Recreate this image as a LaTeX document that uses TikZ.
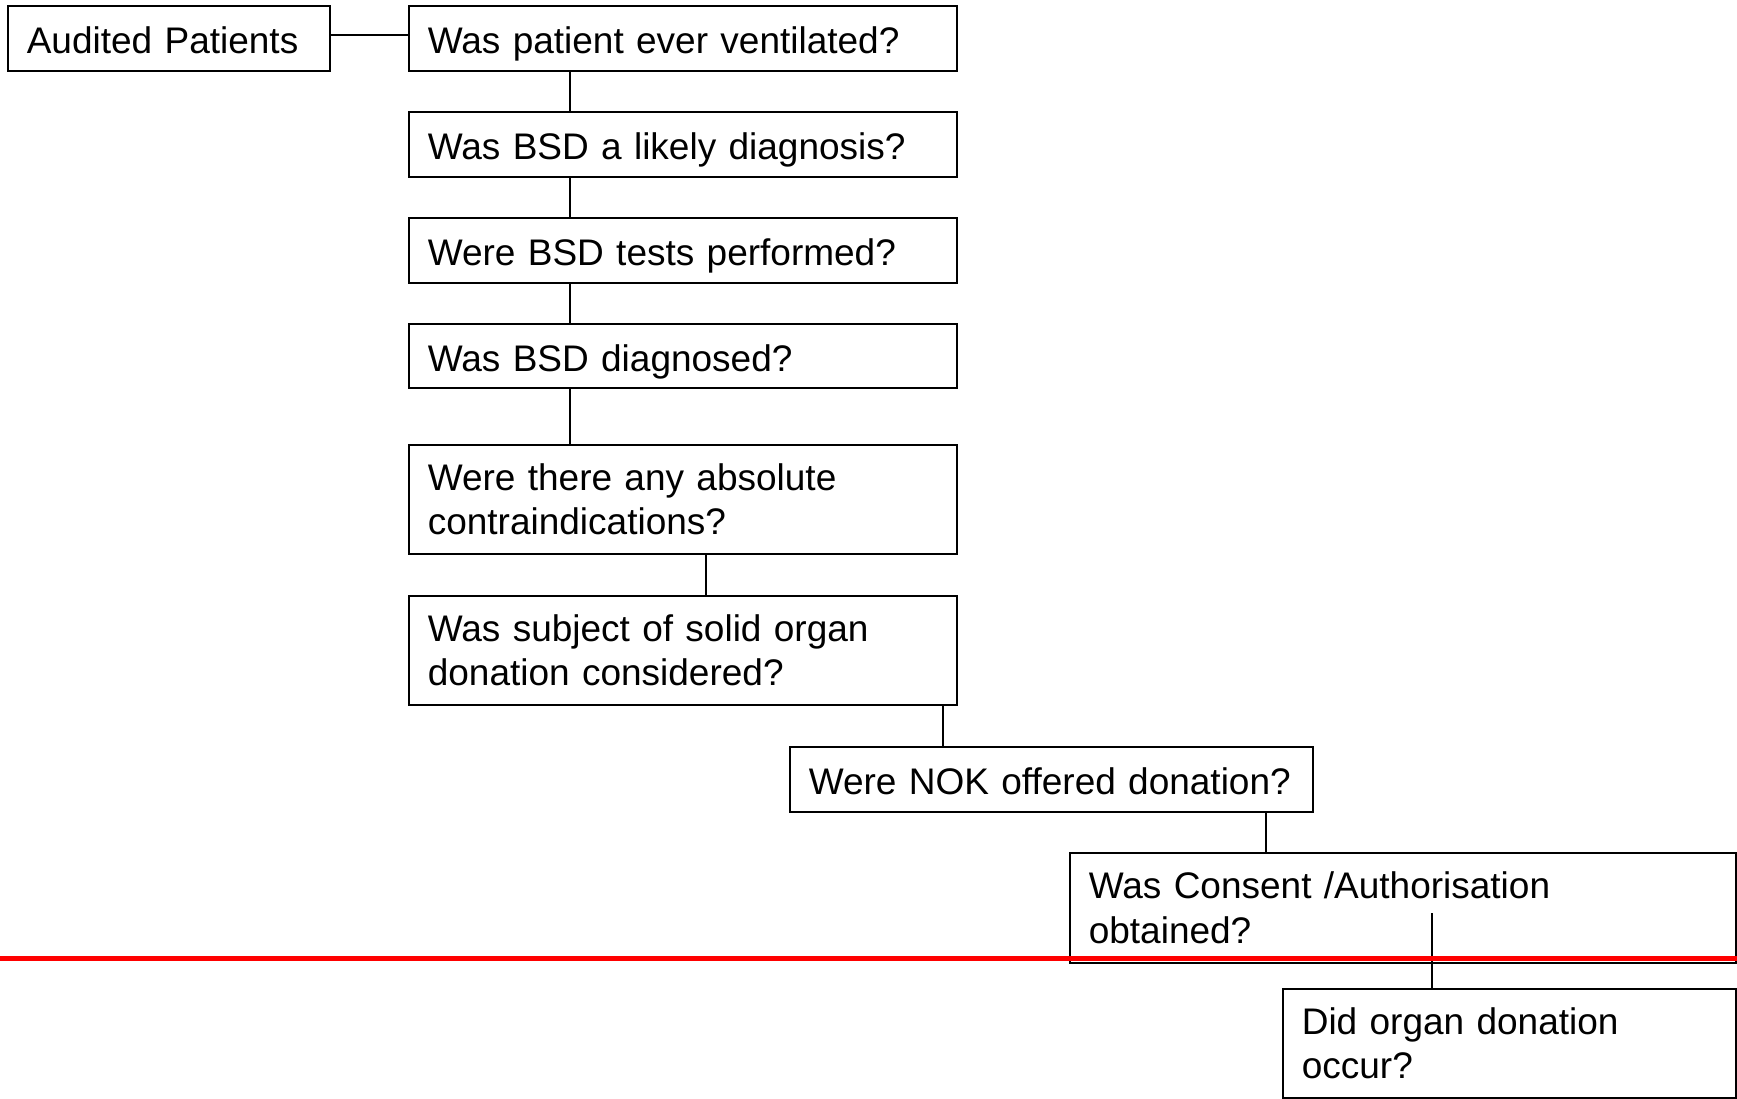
\documentclass[tikz,border=0pt]{standalone}
\usepackage{fontspec}
\setmainfont{Liberation Sans}
\begin{document}
\begin{tikzpicture}[x=1pt,y=-1pt,
  qbox/.style={draw=black, line width=1.6pt, anchor=north west, inner xsep=19pt, inner ysep=0pt,
    align=left, font=\fontsize{37}{44.5}\selectfont},
  oneline/.style={qbox, text height=40pt, text depth=9pt},
  conn/.style={draw=black, line width=1.4pt},
  redline/.style={draw=red, line width=5pt}]
\useasboundingbox (0,0) rectangle (1737,1098);
\node[oneline, text width=284pt, minimum width=322pt, minimum height=65pt] (ap) at (7,5) {\mbox{Audited Patients}};
\node[oneline, text width=510pt, minimum width=548pt, minimum height=65pt] (q1) at (408,5) {\mbox{Was patient ever ventilated?}};
\node[oneline, text width=510pt, minimum width=548pt, minimum height=65pt] (q2) at (408,111) {\mbox{Was BSD a likely diagnosis?}};
\node[oneline, text width=510pt, minimum width=548pt, minimum height=65pt] (q3) at (408,217) {\mbox{Were BSD tests performed?}};
\node[oneline, text width=510pt, minimum width=548pt, minimum height=64pt] (q4) at (408,323) {\mbox{Was BSD diagnosed?}};
\node[qbox, text width=510pt, minimum width=548pt, minimum height=109pt] (q5) at (408,444) {\mbox{Were there any absolute}\\\mbox{contraindications?}};
\node[qbox, text width=510pt, minimum width=548pt, minimum height=109pt] (q6) at (408,595) {\mbox{Was subject of solid organ}\\\mbox{donation considered?}};
\node[oneline, text width=485pt, minimum width=523pt, minimum height=65pt] (q7) at (789,746) {\mbox{Were NOK offered donation?}};
\node[qbox, text width=628pt, minimum width=666pt, minimum height=110pt] (q8) at (1069,852) {\mbox{Was Consent /Authorisation}\\\mbox{obtained?}};
\node[qbox, text width=415pt, minimum width=453pt, minimum height=109pt] (q9) at (1282,988) {\mbox{Did organ donation}\\\mbox{occur?}};

\coordinate (xa) at (570,0);
\coordinate (xb) at (706,0);
\coordinate (xc) at (943,0);
\coordinate (xd) at (1266,0);
\coordinate (s8) at (1432,913);

\draw[conn] ([yshift=3.5pt]ap.east) -- ([yshift=3.5pt]q1.west);
\draw[conn] (q1.south -| xa) -- (q2.north -| xa);
\draw[conn] (q2.south -| xa) -- (q3.north -| xa);
\draw[conn] (q3.south -| xa) -- (q4.north -| xa);
\draw[conn] (q4.south -| xa) -- (q5.north -| xa);
\draw[conn] (q5.south -| xb) -- (q6.north -| xb);
\draw[conn] (q6.south -| xc) -- (q7.north -| xc);
\draw[conn] (q7.south -| xd) -- (q8.north -| xd);
\draw[conn] (s8) -- (q9.north -| s8);

\coordinate (rl) at (0,958);
\coordinate (rr) at (1737,958);
\draw[redline] (rl) -- (rr);
\end{tikzpicture}
\end{document}
